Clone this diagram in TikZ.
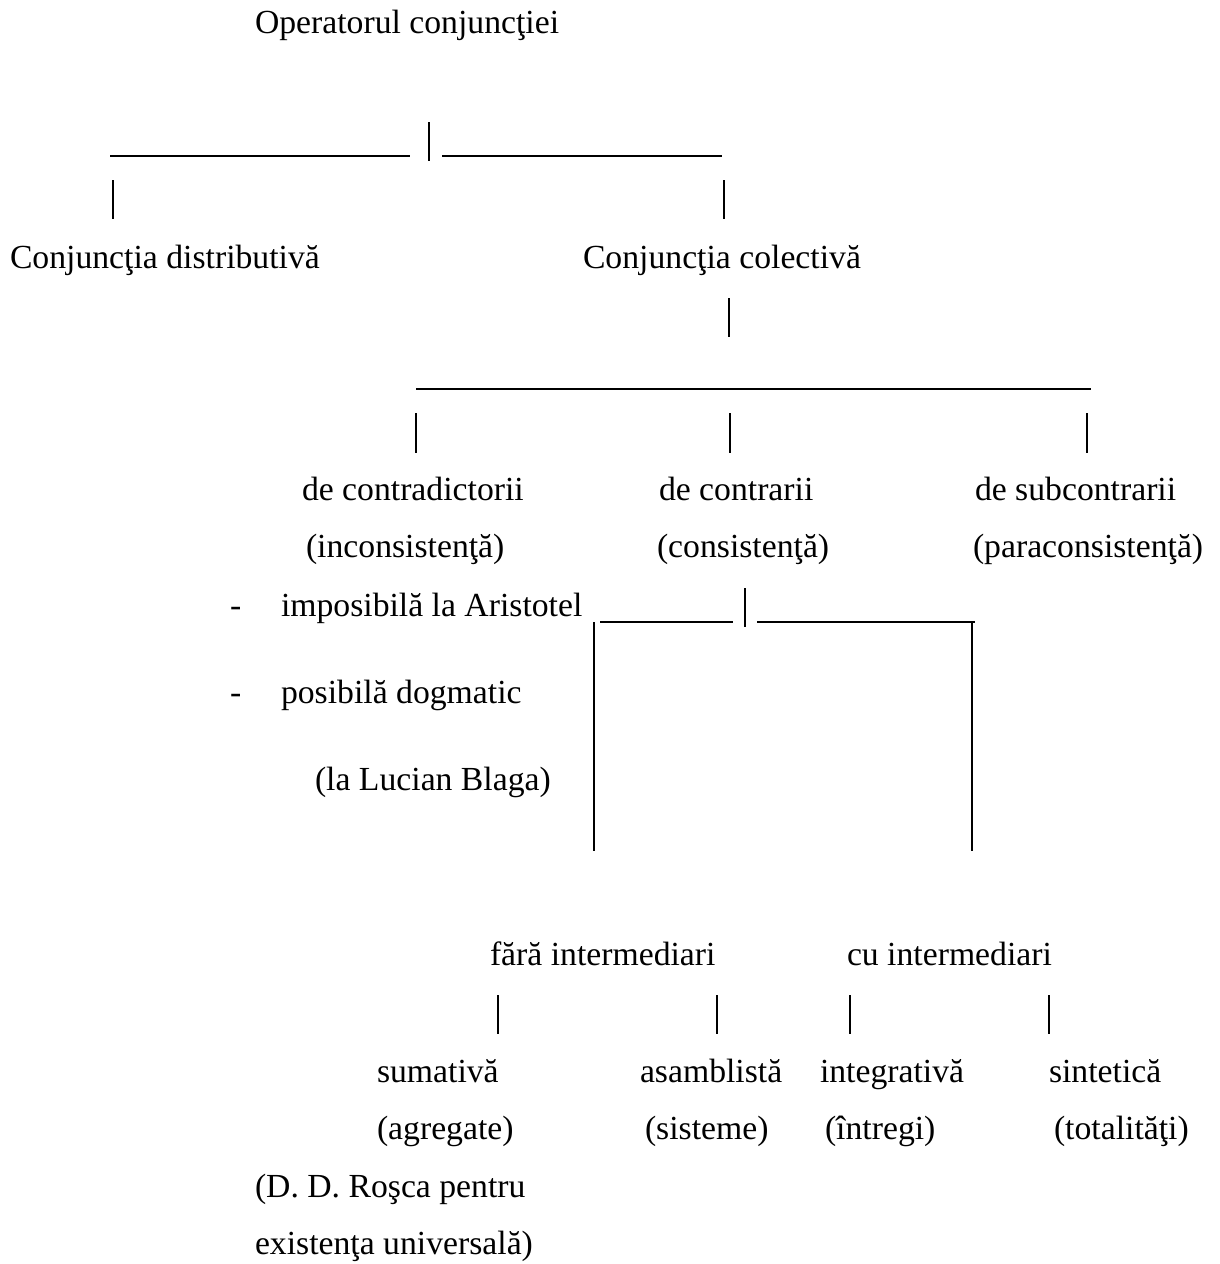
\documentclass[tikz,border=0pt]{standalone}
\usepackage{fontspec}
\setmainfont{Liberation Serif}
\begin{document}
\begin{tikzpicture}[x=1pt,y=-1pt,
  lbl/.style={anchor=base west,inner sep=0pt,outer sep=0pt,
    font=\fontsize{33.7}{40}\selectfont},
  thick line/.style={line width=2.6pt},
  thin line/.style={line width=1.5pt}]
\useasboundingbox[fill=white] (0,0) rectangle (1220,1264);

% level 0
\node[lbl] (op) at (255,33) {Operatorul conjuncţiei};
\draw[thick line] (110,156) -- (410,156);
\draw[thick line] (442,156) -- (722,156);
\draw[thick line] (429,122) -- (429,161);
\draw[thick line] (113,180) -- (113,219);
\draw[thick line] (724,180) -- (724,219);

% level 1
\node[lbl] (dist) at (10,268) {Conjuncţia distributivă};
\node[lbl] (col) at (583,268) {Conjuncţia colectivă};
\draw[thick line] (729,298) -- (729,337);
\draw[line width=2pt] (416,389) -- (1091,389);
\draw[thick line] (416,413) -- (416,453);
\draw[thick line] (730,413) -- (730,453);
\draw[thick line] (1087,413) -- (1087,453);

% level 2
\node[lbl] (contrad) at (302,500) {de contradictorii};
\node[lbl] (contr) at (659,500) {de contrarii};
\node[lbl] (subc) at (975,500) {de subcontrarii};
\node[lbl] (incons) at (306,557) {(inconsistenţă)};
\node[lbl] (cons) at (657,557) {(consistenţă)};
\node[lbl] (parac) at (973,557) {(paraconsistenţă)};

\node[lbl] (d1) at (230,616) {-};
\node[lbl] (imp) at (281,616) {imposibilă la Aristotel};
\node[lbl] (d2) at (230,703) {-};
\node[lbl] (pos) at (281,703) {posibilă dogmatic};
\node[lbl] (blaga) at (315,790) {(la Lucian Blaga)};

\draw[thin line] (600,622) -- (733,622);
\draw[thin line] (757,622) -- (975,622);
\draw[thick line] (745,588) -- (745,627);
\draw[thin line] (594,622) -- (594,851);
\draw[thin line] (972,622) -- (972,851);

% level 3
\node[lbl] (fara) at (490,965) {fără intermediari};
\node[lbl] (cu) at (847,965) {cu intermediari};
\draw[thick line] (498,995) -- (498,1034);
\draw[thick line] (717,995) -- (717,1034);
\draw[thick line] (850,995) -- (850,1034);
\draw[thick line] (1049,995) -- (1049,1034);

% level 4
\node[lbl] (sum) at (377,1082) {sumativă};
\node[lbl] (asa) at (640,1082) {asamblistă};
\node[lbl] (integ) at (820,1082) {integrativă};
\node[lbl] (sint) at (1049,1082) {sintetică};
\node[lbl] (agr) at (377,1139) {(agregate)};
\node[lbl] (sis) at (645,1139) {(sisteme)};
\node[lbl] (intr) at (825,1139) {(întregi)};
\node[lbl] (tot) at (1054,1139) {(totalităţi)};
\node[lbl] (rosca) at (255,1197) {(D. D. Roşca pentru};
\node[lbl] (univ) at (255,1254) {existenţa universală)};
\end{tikzpicture}
\end{document}
